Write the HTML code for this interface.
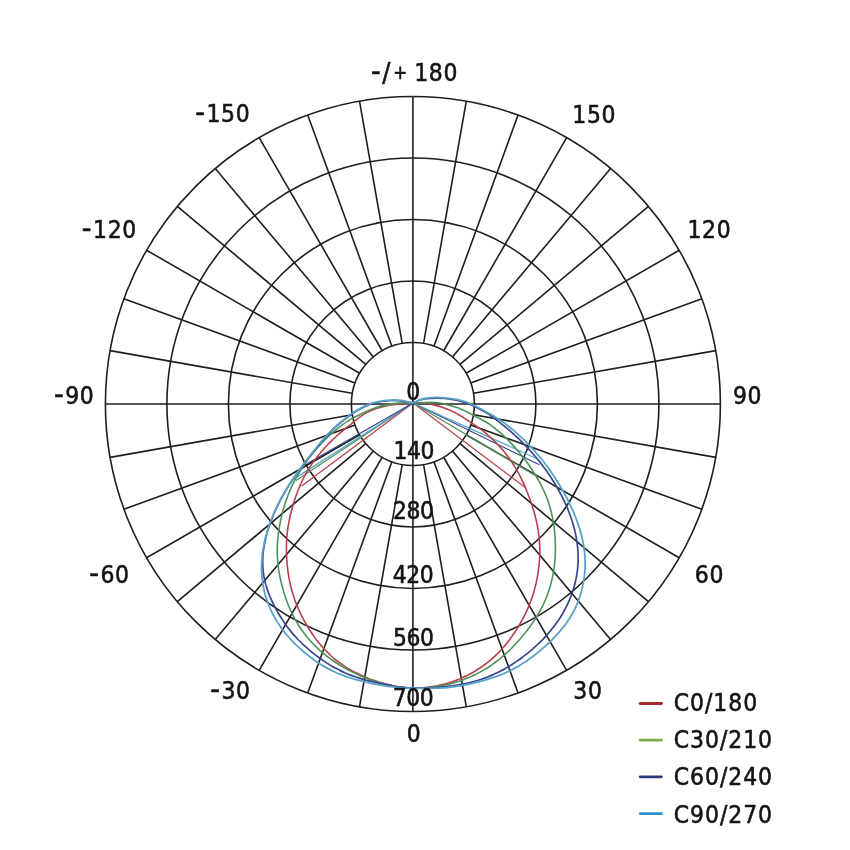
<!DOCTYPE html><html><head><meta charset="utf-8"><style>html,body{margin:0;padding:0;background:#fff;width:850px;height:850px;overflow:hidden}svg{display:block}</style></head><body><svg width="850" height="850" viewBox="0 0 850 850">
<rect width="850" height="850" fill="#fff"/>
<g fill="none" stroke="#1e1e1e" stroke-width="1.6"><circle cx="412.9" cy="404.0" r="61.50"/><circle cx="412.9" cy="404.0" r="123.00"/><circle cx="412.9" cy="404.0" r="184.50"/><circle cx="412.9" cy="404.0" r="246.00"/><circle cx="412.9" cy="404.0" r="307.50"/><line x1="412.90" y1="404.00" x2="412.90" y2="711.50"/><line x1="423.58" y1="464.57" x2="466.30" y2="706.83"/><line x1="433.93" y1="461.79" x2="518.07" y2="692.96"/><line x1="443.65" y1="457.26" x2="566.65" y2="670.30"/><line x1="452.43" y1="451.11" x2="610.56" y2="639.56"/><line x1="460.01" y1="443.53" x2="648.46" y2="601.66"/><line x1="466.16" y1="434.75" x2="679.20" y2="557.75"/><line x1="470.69" y1="425.03" x2="701.86" y2="509.17"/><line x1="473.47" y1="414.68" x2="715.73" y2="457.40"/><line x1="412.90" y1="404.00" x2="720.40" y2="404.00"/><line x1="473.47" y1="393.32" x2="715.73" y2="350.60"/><line x1="470.69" y1="382.97" x2="701.86" y2="298.83"/><line x1="466.16" y1="373.25" x2="679.20" y2="250.25"/><line x1="460.01" y1="364.47" x2="648.46" y2="206.34"/><line x1="452.43" y1="356.89" x2="610.56" y2="168.44"/><line x1="443.65" y1="350.74" x2="566.65" y2="137.70"/><line x1="433.93" y1="346.21" x2="518.07" y2="115.04"/><line x1="423.58" y1="343.43" x2="466.30" y2="101.17"/><line x1="412.90" y1="404.00" x2="412.90" y2="96.50"/><line x1="402.22" y1="343.43" x2="359.50" y2="101.17"/><line x1="391.87" y1="346.21" x2="307.73" y2="115.04"/><line x1="382.15" y1="350.74" x2="259.15" y2="137.70"/><line x1="373.37" y1="356.89" x2="215.24" y2="168.44"/><line x1="365.79" y1="364.47" x2="177.34" y2="206.34"/><line x1="359.64" y1="373.25" x2="146.60" y2="250.25"/><line x1="355.11" y1="382.97" x2="123.94" y2="298.83"/><line x1="352.33" y1="393.32" x2="110.07" y2="350.60"/><line x1="412.90" y1="404.00" x2="105.40" y2="404.00"/><line x1="352.33" y1="414.68" x2="110.07" y2="457.40"/><line x1="355.11" y1="425.03" x2="123.94" y2="509.17"/><line x1="359.64" y1="434.75" x2="146.60" y2="557.75"/><line x1="365.79" y1="443.53" x2="177.34" y2="601.66"/><line x1="373.37" y1="451.11" x2="215.24" y2="639.56"/><line x1="382.15" y1="457.26" x2="259.15" y2="670.30"/><line x1="391.87" y1="461.79" x2="307.73" y2="692.96"/><line x1="402.22" y1="464.57" x2="359.50" y2="706.83"/></g>
<g stroke-width="1.25" fill="none"><line x1="413.1" y1="403.0" x2="301.6" y2="486.1" stroke="#b9404b"/><line x1="413.1" y1="403.0" x2="296" y2="480.5" stroke="#4c9259"/><line x1="413.1" y1="403.0" x2="296" y2="477.6" stroke="#5aa3c8"/><line x1="413.1" y1="403.0" x2="307.3" y2="463.5" stroke="#37478e"/><line x1="413.1" y1="403.0" x2="525.3" y2="487.6" stroke="#b9404b"/><line x1="413.1" y1="403.0" x2="535.9" y2="475.9" stroke="#4c9259"/><line x1="413.1" y1="403.0" x2="539.4" y2="464.7" stroke="#37478e"/><line x1="413.1" y1="403.0" x2="535.9" y2="458.2" stroke="#5aa3c8"/></g>
<path d="M413.10,403.00 C408.88,403.42 395.55,403.90 387.80,405.50 C380.05,407.10 372.97,409.30 366.60,412.60 C360.23,415.90 352.94,422.80 349.61,425.30 C346.28,427.80 347.64,426.81 346.63,427.60 C345.63,428.40 344.61,429.22 343.58,430.07 C342.55,430.92 341.51,431.80 340.46,432.70 C339.40,433.61 338.34,434.55 337.26,435.52 C336.19,436.48 335.10,437.48 334.01,438.51 C332.92,439.54 331.82,440.60 330.72,441.68 C329.62,442.77 328.51,443.88 327.42,445.02 C326.32,446.17 325.22,447.34 324.14,448.53 C323.06,449.72 321.99,450.94 320.93,452.18 C319.87,453.42 318.83,454.68 317.81,455.96 C316.79,457.24 315.79,458.54 314.81,459.86 C313.83,461.17 312.88,462.51 311.96,463.85 C311.04,465.20 310.14,466.56 309.28,467.93 C308.42,469.30 307.58,470.68 306.79,472.06 C305.99,473.45 305.23,474.85 304.49,476.25 C303.75,477.66 303.05,479.07 302.37,480.50 C301.69,481.93 301.04,483.36 300.40,484.82 C299.77,486.27 299.15,487.74 298.56,489.23 C297.96,490.71 297.38,492.22 296.82,493.73 C296.26,495.25 295.72,496.79 295.19,498.34 C294.67,499.89 294.16,501.46 293.67,503.04 C293.19,504.63 292.72,506.23 292.27,507.84 C291.82,509.46 291.38,511.09 290.97,512.74 C290.56,514.39 290.17,516.05 289.80,517.73 C289.43,519.40 289.09,521.09 288.77,522.78 C288.46,524.47 288.17,526.17 287.92,527.87 C287.67,529.57 287.45,531.27 287.26,532.97 C287.08,534.67 286.92,536.38 286.80,538.08 C286.68,539.78 286.58,541.49 286.52,543.19 C286.46,544.90 286.42,546.60 286.42,548.31 C286.41,550.02 286.44,551.74 286.49,553.45 C286.54,555.16 286.62,556.88 286.72,558.60 C286.82,560.31 286.96,562.03 287.11,563.76 C287.27,565.48 287.45,567.21 287.66,568.94 C287.87,570.66 288.11,572.39 288.37,574.12 C288.64,575.85 288.93,577.57 289.25,579.29 C289.58,581.01 289.93,582.72 290.32,584.42 C290.70,586.13 291.12,587.82 291.57,589.50 C292.03,591.18 292.51,592.84 293.02,594.50 C293.54,596.15 294.08,597.80 294.66,599.42 C295.24,601.05 295.84,602.67 296.48,604.27 C297.11,605.88 297.78,607.47 298.47,609.05 C299.16,610.63 299.88,612.19 300.63,613.74 C301.38,615.30 302.15,616.84 302.95,618.37 C303.75,619.90 304.58,621.41 305.43,622.92 C306.28,624.42 307.15,625.92 308.05,627.40 C308.95,628.88 309.88,630.35 310.83,631.80 C311.78,633.25 312.75,634.69 313.75,636.11 C314.75,637.52 315.78,638.92 316.83,640.29 C317.89,641.66 318.97,643.02 320.07,644.34 C321.17,645.66 322.31,646.96 323.46,648.23 C324.62,649.49 325.80,650.73 327.01,651.94 C328.21,653.15 329.44,654.33 330.70,655.47 C331.95,656.62 333.23,657.74 334.53,658.82 C335.82,659.90 337.15,660.95 338.49,661.97 C339.83,662.98 341.19,663.97 342.57,664.92 C343.95,665.86 345.36,666.78 346.77,667.66 C348.19,668.55 349.63,669.40 351.08,670.22 C352.53,671.04 354.00,671.82 355.48,672.58 C356.96,673.34 358.45,674.07 359.96,674.78 C361.47,675.48 362.99,676.16 364.52,676.81 C366.05,677.46 367.59,678.08 369.15,678.67 C370.70,679.27 372.26,679.84 373.83,680.38 C375.41,680.93 376.99,681.44 378.58,681.94 C380.17,682.43 381.77,682.91 383.37,683.36 C384.98,683.81 386.59,684.25 388.21,684.65 C389.82,685.06 391.45,685.45 393.08,685.80 C394.71,686.14 396.35,686.47 398.00,686.74 C399.64,687.01 401.29,687.24 402.95,687.42 C404.60,687.60 406.26,687.74 407.92,687.83 C409.58,687.92 411.24,687.92 412.90,687.97 C414.56,688.02 416.22,688.14 417.88,688.12 C419.54,688.10 421.20,687.95 422.86,687.82 C424.51,687.69 426.17,687.52 427.82,687.32 C429.47,687.12 431.12,686.89 432.76,686.62 C434.40,686.36 436.03,686.06 437.66,685.72 C439.29,685.38 440.92,685.01 442.53,684.61 C444.15,684.20 445.76,683.76 447.36,683.29 C448.95,682.82 450.55,682.31 452.12,681.77 C453.70,681.23 455.27,680.65 456.83,680.04 C458.39,679.44 459.93,678.79 461.47,678.12 C463.00,677.45 464.52,676.74 466.03,676.01 C467.53,675.27 469.03,674.50 470.51,673.70 C471.98,672.90 473.45,672.07 474.89,671.21 C476.34,670.35 477.77,669.46 479.18,668.54 C480.59,667.61 481.99,666.66 483.36,665.67 C484.74,664.69 486.09,663.67 487.43,662.62 C488.76,661.57 490.08,660.49 491.37,659.38 C492.66,658.27 493.93,657.12 495.18,655.95 C496.42,654.77 497.64,653.56 498.84,652.33 C500.04,651.09 501.21,649.83 502.36,648.53 C503.51,647.24 504.63,645.92 505.73,644.58 C506.82,643.23 507.89,641.86 508.94,640.47 C509.99,639.09 511.01,637.67 512.00,636.25 C513.00,634.83 513.98,633.39 514.93,631.94 C515.88,630.49 516.80,629.03 517.71,627.56 C518.61,626.09 519.50,624.61 520.36,623.12 C521.21,621.64 522.05,620.14 522.86,618.63 C523.67,617.11 524.45,615.59 525.21,614.06 C525.97,612.52 526.70,610.97 527.40,609.40 C528.10,607.84 528.78,606.26 529.42,604.67 C530.06,603.08 530.68,601.47 531.26,599.85 C531.85,598.23 532.40,596.60 532.92,594.95 C533.44,593.31 533.94,591.65 534.40,589.98 C534.86,588.31 535.29,586.63 535.69,584.94 C536.09,583.26 536.46,581.56 536.80,579.86 C537.14,578.17 537.45,576.46 537.74,574.76 C538.03,573.06 538.28,571.35 538.51,569.64 C538.74,567.93 538.95,566.22 539.12,564.51 C539.29,562.80 539.43,561.08 539.54,559.37 C539.65,557.65 539.73,555.93 539.78,554.20 C539.82,552.47 539.84,550.75 539.82,549.01 C539.80,547.28 539.74,545.54 539.65,543.79 C539.55,542.04 539.42,540.29 539.25,538.54 C539.08,536.78 538.87,535.02 538.63,533.26 C538.39,531.50 538.10,529.73 537.79,527.97 C537.48,526.21 537.13,524.45 536.75,522.70 C536.37,520.94 535.96,519.20 535.52,517.47 C535.09,515.73 534.63,514.01 534.14,512.30 C533.66,510.60 533.15,508.90 532.62,507.23 C532.10,505.56 531.55,503.90 530.99,502.26 C530.42,500.62 529.84,499.01 529.25,497.41 C528.66,495.82 528.05,494.25 527.44,492.70 C526.82,491.15 526.20,489.63 525.56,488.13 C524.93,486.63 524.28,485.15 523.63,483.70 C522.97,482.24 522.31,480.81 521.63,479.40 C520.95,477.99 520.26,476.60 519.55,475.22 C518.84,473.85 518.12,472.49 517.37,471.15 C516.62,469.80 515.85,468.48 515.06,467.16 C514.27,465.85 513.46,464.55 512.62,463.26 C511.78,461.97 510.92,460.70 510.03,459.44 C509.14,458.18 508.23,456.94 507.30,455.71 C506.36,454.48 505.41,453.26 504.43,452.07 C503.45,450.87 502.44,449.69 501.42,448.53 C500.40,447.37 499.36,446.22 498.30,445.10 C497.25,443.97 496.17,442.87 495.08,441.79 C494.00,440.71 492.89,439.65 491.79,438.61 C490.68,437.57 489.55,436.56 488.43,435.57 C487.31,434.58 486.18,433.62 485.05,432.68 C483.92,431.75 484.18,431.76 481.67,429.95 C479.16,428.14 474.88,424.93 470.00,421.80 C465.12,418.67 458.87,414.15 452.40,411.20 C445.93,408.25 437.75,405.47 431.20,404.10 C424.65,402.73 416.12,403.18 413.10,403.00" fill="none" stroke="#b9404b" stroke-width="1.6" stroke-linejoin="round"/>
<path d="M413.10,403.00 C410.05,403.07 401.38,402.50 394.80,403.40 C388.22,404.30 380.65,405.93 373.60,408.40 C366.55,410.87 356.54,416.25 352.50,418.20 C348.46,420.15 350.40,419.46 349.36,420.13 C348.31,420.79 347.26,421.47 346.22,422.18 C345.17,422.89 344.13,423.61 343.09,424.36 C342.05,425.11 341.01,425.88 339.97,426.67 C338.93,427.47 337.89,428.28 336.86,429.12 C335.82,429.96 334.79,430.82 333.76,431.70 C332.73,432.58 331.70,433.49 330.67,434.42 C329.64,435.35 328.62,436.30 327.59,437.28 C326.56,438.26 325.54,439.26 324.51,440.29 C323.48,441.32 322.46,442.37 321.43,443.45 C320.41,444.53 319.38,445.64 318.36,446.77 C317.34,447.90 316.32,449.06 315.31,450.24 C314.30,451.42 313.29,452.63 312.30,453.86 C311.30,455.09 310.31,456.34 309.34,457.62 C308.36,458.90 307.39,460.20 306.44,461.52 C305.48,462.84 304.54,464.19 303.62,465.56 C302.69,466.93 301.78,468.32 300.88,469.72 C299.99,471.13 299.12,472.56 298.27,474.01 C297.42,475.45 296.59,476.91 295.79,478.39 C294.99,479.86 294.21,481.35 293.47,482.85 C292.72,484.35 292.01,485.86 291.32,487.38 C290.62,488.91 289.96,490.44 289.33,491.99 C288.69,493.54 288.08,495.10 287.49,496.67 C286.90,498.25 286.34,499.83 285.80,501.43 C285.27,503.03 284.75,504.64 284.26,506.26 C283.78,507.88 283.31,509.52 282.87,511.16 C282.43,512.81 282.01,514.47 281.62,516.14 C281.23,517.81 280.86,519.49 280.51,521.19 C280.16,522.88 279.84,524.59 279.54,526.31 C279.24,528.02 278.96,529.76 278.71,531.49 C278.46,533.23 278.24,534.97 278.05,536.72 C277.87,538.46 277.71,540.21 277.59,541.95 C277.47,543.70 277.38,545.44 277.33,547.18 C277.28,548.92 277.26,550.66 277.28,552.39 C277.30,554.11 277.36,555.84 277.45,557.56 C277.54,559.27 277.66,560.98 277.82,562.69 C277.98,564.39 278.18,566.08 278.40,567.77 C278.63,569.46 278.89,571.14 279.18,572.81 C279.47,574.48 279.79,576.14 280.14,577.80 C280.49,579.46 280.87,581.12 281.27,582.77 C281.67,584.43 282.10,586.08 282.55,587.73 C283.00,589.38 283.48,591.03 283.98,592.67 C284.48,594.32 285.01,595.96 285.56,597.60 C286.12,599.23 286.70,600.86 287.31,602.48 C287.92,604.10 288.56,605.70 289.23,607.30 C289.89,608.89 290.59,610.47 291.32,612.03 C292.05,613.58 292.81,615.13 293.60,616.65 C294.39,618.16 295.21,619.67 296.06,621.14 C296.91,622.62 297.80,624.07 298.71,625.50 C299.62,626.92 300.56,628.33 301.53,629.71 C302.50,631.09 303.49,632.44 304.52,633.77 C305.54,635.10 306.59,636.41 307.66,637.69 C308.74,638.98 309.84,640.23 310.96,641.47 C312.08,642.70 313.23,643.91 314.40,645.10 C315.57,646.28 316.76,647.44 317.97,648.58 C319.19,649.71 320.42,650.82 321.68,651.90 C322.93,652.99 324.21,654.05 325.50,655.08 C326.79,656.12 328.11,657.13 329.44,658.11 C330.77,659.10 332.12,660.05 333.48,660.99 C334.85,661.93 336.23,662.84 337.63,663.73 C339.02,664.62 340.44,665.49 341.86,666.33 C343.29,667.18 344.73,668.00 346.18,668.80 C347.63,669.60 349.10,670.38 350.58,671.14 C352.06,671.89 353.55,672.63 355.05,673.34 C356.56,674.05 358.07,674.73 359.60,675.40 C361.12,676.06 362.66,676.70 364.21,677.31 C365.76,677.93 367.32,678.52 368.88,679.08 C370.45,679.65 372.03,680.19 373.61,680.71 C375.20,681.23 376.79,681.73 378.39,682.20 C379.99,682.68 381.60,683.14 383.22,683.58 C384.83,684.01 386.45,684.43 388.08,684.83 C389.71,685.22 391.34,685.60 392.99,685.93 C394.63,686.26 396.27,686.57 397.93,686.83 C399.58,687.09 401.24,687.31 402.90,687.48 C404.56,687.66 406.23,687.79 407.89,687.87 C409.56,687.96 411.23,687.95 412.90,688.00 C414.57,688.06 416.24,688.19 417.91,688.19 C419.58,688.18 421.25,688.07 422.91,687.97 C424.58,687.88 426.25,687.76 427.91,687.61 C429.57,687.46 431.23,687.29 432.89,687.09 C434.55,686.89 436.20,686.66 437.85,686.39 C439.50,686.13 441.14,685.84 442.78,685.51 C444.42,685.19 446.05,684.83 447.67,684.45 C449.30,684.06 450.92,683.64 452.52,683.19 C454.13,682.75 455.74,682.27 457.33,681.76 C458.92,681.25 460.50,680.71 462.07,680.14 C463.65,679.57 465.21,678.97 466.76,678.34 C468.31,677.71 469.85,677.05 471.37,676.36 C472.90,675.68 474.41,674.96 475.91,674.21 C477.41,673.47 478.90,672.69 480.37,671.89 C481.84,671.08 483.30,670.25 484.74,669.39 C486.18,668.53 487.60,667.64 489.01,666.73 C490.42,665.81 491.81,664.87 493.18,663.90 C494.55,662.92 495.91,661.93 497.24,660.90 C498.58,659.88 499.89,658.83 501.19,657.75 C502.49,656.67 503.76,655.57 505.02,654.45 C506.28,653.33 507.51,652.18 508.73,651.01 C509.95,649.85 511.14,648.66 512.32,647.46 C513.50,646.25 514.66,645.03 515.79,643.80 C516.93,642.56 518.05,641.31 519.15,640.05 C520.25,638.79 521.33,637.52 522.40,636.24 C523.46,634.96 524.51,633.67 525.53,632.37 C526.56,631.07 527.57,629.76 528.56,628.44 C529.55,627.12 530.52,625.79 531.46,624.45 C532.41,623.11 533.34,621.76 534.25,620.40 C535.15,619.03 536.04,617.66 536.89,616.26 C537.75,614.87 538.59,613.46 539.39,612.03 C540.20,610.60 540.98,609.16 541.73,607.70 C542.48,606.24 543.21,604.76 543.90,603.27 C544.59,601.77 545.25,600.26 545.88,598.72 C546.52,597.19 547.12,595.64 547.68,594.08 C548.25,592.51 548.79,590.93 549.29,589.33 C549.79,587.73 550.26,586.12 550.70,584.50 C551.14,582.87 551.55,581.24 551.92,579.59 C552.30,577.95 552.64,576.29 552.96,574.63 C553.27,572.97 553.55,571.30 553.81,569.63 C554.06,567.96 554.28,566.28 554.48,564.59 C554.67,562.91 554.83,561.22 554.97,559.54 C555.10,557.85 555.20,556.15 555.28,554.46 C555.35,552.77 555.40,551.08 555.41,549.39 C555.43,547.70 555.42,546.01 555.38,544.32 C555.34,542.64 555.28,540.95 555.19,539.27 C555.10,537.60 554.98,535.92 554.83,534.25 C554.69,532.59 554.52,530.92 554.32,529.27 C554.13,527.61 553.91,525.96 553.66,524.32 C553.41,522.67 553.13,521.04 552.83,519.40 C552.52,517.77 552.19,516.14 551.82,514.52 C551.46,512.90 551.06,511.28 550.63,509.66 C550.20,508.05 549.74,506.44 549.24,504.83 C548.74,503.22 548.20,501.61 547.63,500.01 C547.05,498.41 546.44,496.81 545.80,495.22 C545.15,493.63 544.46,492.04 543.74,490.46 C543.02,488.88 542.27,487.30 541.48,485.74 C540.69,484.18 539.86,482.62 539.01,481.09 C538.16,479.55 537.28,478.02 536.37,476.52 C535.47,475.01 534.54,473.52 533.60,472.06 C532.66,470.59 531.69,469.14 530.72,467.72 C529.75,466.31 528.77,464.91 527.78,463.54 C526.80,462.18 525.80,460.83 524.81,459.52 C523.82,458.21 522.82,456.92 521.82,455.67 C520.83,454.41 519.83,453.18 518.83,451.98 C517.83,450.78 516.84,449.61 515.84,448.46 C514.85,447.31 513.85,446.19 512.85,445.09 C511.86,444.00 510.86,442.93 509.86,441.88 C508.86,440.83 507.85,439.81 506.84,438.80 C505.83,437.80 504.82,436.82 503.79,435.86 C502.77,434.91 501.74,433.97 500.70,433.05 C499.66,432.14 498.61,431.24 497.54,430.36 C496.48,429.49 495.41,428.63 494.32,427.79 C493.23,426.96 492.13,426.14 491.02,425.34 C489.90,424.54 491.13,424.98 487.63,423.01 C484.13,421.03 474.70,415.93 470.00,413.50 C465.30,411.07 464.70,410.20 459.40,408.40 C454.10,406.60 445.92,403.60 438.20,402.70 C430.48,401.80 417.28,402.95 413.10,403.00" fill="none" stroke="#4c9259" stroke-width="1.6" stroke-linejoin="round"/>
<path d="M413.10,403.00 C410.05,402.58 401.38,400.47 394.80,400.50 C388.22,400.53 380.18,401.32 373.60,403.20 C367.02,405.08 361.17,408.25 355.30,411.80 C349.43,415.35 341.60,422.03 338.39,424.50 C335.18,426.97 336.82,425.89 336.04,426.61 C335.25,427.33 334.47,428.07 333.68,428.83 C332.90,429.58 332.11,430.36 331.33,431.15 C330.54,431.95 329.75,432.76 328.97,433.59 C328.18,434.42 327.39,435.27 326.60,436.14 C325.81,437.01 325.01,437.90 324.21,438.82 C323.41,439.73 322.61,440.67 321.80,441.63 C320.99,442.59 320.18,443.57 319.35,444.58 C318.52,445.60 317.68,446.63 316.82,447.71 C315.96,448.78 315.09,449.88 314.18,451.02 C313.28,452.16 312.36,453.33 311.40,454.55 C310.44,455.77 309.46,457.03 308.44,458.34 C307.42,459.65 306.37,461.00 305.30,462.41 C304.23,463.81 303.12,465.25 302.00,466.75 C300.88,468.24 299.73,469.78 298.58,471.36 C297.43,472.95 296.26,474.57 295.10,476.24 C293.94,477.90 292.77,479.61 291.62,481.35 C290.46,483.08 289.31,484.86 288.18,486.66 C287.06,488.46 285.94,490.29 284.86,492.14 C283.77,494.00 282.70,495.88 281.67,497.78 C280.64,499.68 279.63,501.61 278.66,503.55 C277.69,505.49 276.75,507.45 275.85,509.42 C274.95,511.39 274.08,513.39 273.25,515.39 C272.42,517.39 271.62,519.41 270.87,521.43 C270.12,523.46 269.40,525.49 268.74,527.53 C268.08,529.56 267.45,531.61 266.89,533.64 C266.32,535.67 265.80,537.71 265.35,539.73 C264.89,541.74 264.49,543.76 264.15,545.74 C263.81,547.73 263.53,549.70 263.31,551.65 C263.09,553.60 262.94,555.52 262.84,557.42 C262.74,559.32 262.71,561.20 262.73,563.04 C262.75,564.89 262.83,566.71 262.96,568.50 C263.09,570.29 263.28,572.06 263.52,573.79 C263.76,575.52 264.06,577.23 264.40,578.91 C264.74,580.58 265.13,582.23 265.57,583.85 C266.00,585.48 266.48,587.07 267.00,588.64 C267.51,590.21 268.07,591.76 268.66,593.29 C269.25,594.82 269.88,596.32 270.53,597.82 C271.18,599.32 271.86,600.79 272.57,602.26 C273.27,603.73 274.01,605.19 274.76,606.64 C275.51,608.09 276.29,609.53 277.09,610.96 C277.88,612.39 278.70,613.81 279.55,615.22 C280.39,616.63 281.26,618.03 282.15,619.41 C283.04,620.79 283.95,622.16 284.89,623.51 C285.83,624.86 286.79,626.20 287.77,627.51 C288.76,628.82 289.77,630.12 290.81,631.39 C291.84,632.66 292.91,633.91 293.99,635.14 C295.07,636.36 296.18,637.57 297.30,638.76 C298.43,639.94 299.58,641.10 300.75,642.25 C301.92,643.39 303.11,644.51 304.32,645.62 C305.52,646.72 306.75,647.81 307.99,648.88 C309.23,649.95 310.49,651.00 311.77,652.04 C313.04,653.07 314.33,654.09 315.64,655.09 C316.94,656.09 318.26,657.08 319.60,658.04 C320.94,659.01 322.29,659.96 323.66,660.88 C325.02,661.81 326.40,662.72 327.80,663.60 C329.20,664.48 330.61,665.35 332.04,666.18 C333.46,667.02 334.90,667.83 336.36,668.61 C337.81,669.40 339.28,670.15 340.77,670.88 C342.25,671.60 343.75,672.29 345.26,672.96 C346.77,673.62 348.30,674.24 349.83,674.84 C351.37,675.44 352.92,676.01 354.47,676.56 C356.03,677.10 357.59,677.61 359.17,678.11 C360.74,678.60 362.32,679.07 363.91,679.52 C365.49,679.97 367.09,680.40 368.69,680.81 C370.29,681.23 371.89,681.62 373.50,682.00 C375.11,682.38 376.73,682.74 378.34,683.10 C379.96,683.45 381.58,683.80 383.21,684.13 C384.84,684.47 386.47,684.81 388.10,685.13 C389.73,685.45 391.37,685.77 393.01,686.05 C394.66,686.34 396.30,686.61 397.95,686.84 C399.60,687.07 401.26,687.27 402.92,687.42 C404.58,687.58 406.24,687.70 407.91,687.77 C409.57,687.85 411.23,687.81 412.90,687.89 C414.57,687.97 416.24,688.19 417.91,688.22 C419.58,688.26 421.24,688.16 422.91,688.12 C424.58,688.07 426.25,688.01 427.92,687.94 C429.59,687.87 431.25,687.79 432.92,687.69 C434.59,687.60 436.25,687.49 437.92,687.36 C439.59,687.24 441.25,687.10 442.91,686.94 C444.58,686.78 446.24,686.61 447.90,686.41 C449.56,686.21 451.21,686.00 452.87,685.76 C454.52,685.52 456.17,685.27 457.82,684.99 C459.47,684.71 461.11,684.41 462.75,684.08 C464.39,683.75 466.02,683.41 467.65,683.03 C469.28,682.66 470.90,682.26 472.51,681.84 C474.13,681.41 475.74,680.96 477.34,680.48 C478.94,680.00 480.53,679.50 482.11,678.96 C483.69,678.42 485.26,677.85 486.82,677.25 C488.38,676.65 489.93,676.02 491.47,675.37 C493.00,674.71 494.53,674.02 496.04,673.30 C497.55,672.58 499.04,671.84 500.53,671.07 C502.01,670.29 503.48,669.50 504.94,668.67 C506.39,667.85 507.83,667.00 509.26,666.14 C510.69,665.27 512.10,664.37 513.50,663.46 C514.90,662.55 516.28,661.61 517.65,660.66 C519.02,659.70 520.37,658.73 521.71,657.74 C523.05,656.74 524.37,655.73 525.68,654.70 C526.98,653.67 528.27,652.62 529.55,651.56 C530.82,650.50 532.08,649.42 533.33,648.33 C534.57,647.23 535.80,646.12 537.01,645.00 C538.22,643.87 539.41,642.73 540.59,641.57 C541.76,640.41 542.92,639.24 544.06,638.05 C545.20,636.85 546.31,635.64 547.41,634.41 C548.50,633.18 549.58,631.93 550.63,630.66 C551.68,629.39 552.71,628.11 553.71,626.80 C554.71,625.49 555.69,624.16 556.65,622.81 C557.60,621.46 558.53,620.10 559.43,618.71 C560.33,617.33 561.21,615.92 562.06,614.50 C562.90,613.07 563.72,611.63 564.52,610.17 C565.31,608.71 566.07,607.23 566.80,605.74 C567.53,604.24 568.24,602.73 568.91,601.19 C569.58,599.66 570.22,598.11 570.82,596.55 C571.43,594.98 572.00,593.39 572.54,591.79 C573.07,590.19 573.58,588.57 574.04,586.94 C574.51,585.30 574.94,583.65 575.33,581.98 C575.73,580.31 576.08,578.63 576.39,576.92 C576.71,575.22 576.98,573.50 577.21,571.77 C577.45,570.04 577.64,568.29 577.78,566.52 C577.93,564.76 578.03,562.98 578.09,561.18 C578.14,559.39 578.15,557.58 578.11,555.75 C578.07,553.93 577.99,552.09 577.86,550.25 C577.73,548.40 577.55,546.54 577.32,544.68 C577.10,542.82 576.82,540.94 576.51,539.06 C576.19,537.19 575.82,535.30 575.42,533.42 C575.01,531.54 574.56,529.65 574.07,527.77 C573.57,525.89 573.04,524.00 572.46,522.13 C571.88,520.25 571.26,518.38 570.61,516.51 C569.95,514.65 569.26,512.79 568.53,510.94 C567.80,509.09 567.03,507.26 566.23,505.43 C565.43,503.61 564.60,501.80 563.74,500.01 C562.88,498.22 561.99,496.44 561.08,494.69 C560.17,492.94 559.23,491.20 558.27,489.49 C557.31,487.77 556.32,486.08 555.32,484.41 C554.33,482.75 553.31,481.10 552.28,479.49 C551.24,477.87 550.20,476.28 549.14,474.71 C548.08,473.15 547.01,471.61 545.92,470.10 C544.84,468.59 543.75,467.10 542.65,465.65 C541.55,464.19 540.44,462.76 539.33,461.36 C538.21,459.96 537.09,458.59 535.97,457.24 C534.84,455.90 533.71,454.58 532.58,453.29 C531.45,452.01 530.32,450.75 529.19,449.52 C528.06,448.29 526.93,447.09 525.81,445.92 C524.69,444.74 523.56,443.60 522.45,442.49 C521.33,441.37 520.22,440.29 519.12,439.23 C518.02,438.17 516.93,437.14 515.85,436.14 C514.76,435.14 513.69,434.17 512.63,433.22 C511.56,432.27 510.51,431.35 509.47,430.46 C508.43,429.56 507.41,428.70 506.39,427.85 C505.38,427.01 504.38,426.19 503.40,425.40 C502.42,424.60 501.45,423.83 500.49,423.09 C499.54,422.34 498.60,421.62 497.69,420.92 C496.77,420.22 495.87,419.54 494.99,418.88 C494.11,418.22 493.24,417.59 492.40,416.97 C491.56,416.35 490.74,415.76 489.94,415.18 C489.14,414.60 491.50,415.53 487.60,413.50 C483.69,411.47 473.55,405.50 466.50,403.00 C459.45,400.50 452.37,399.17 445.30,398.50 C438.23,397.83 429.47,398.25 424.10,399.00 C418.73,399.75 414.93,402.33 413.10,403.00" fill="none" stroke="#37478e" stroke-width="1.7" stroke-linejoin="round"/>
<path d="M413.10,403.00 C410.05,402.48 401.38,399.95 394.80,399.90 C388.22,399.85 380.18,400.82 373.60,402.70 C367.02,404.58 361.17,407.67 355.30,411.20 C349.43,414.73 341.60,421.44 338.39,423.90 C335.18,426.36 336.83,425.26 336.06,425.97 C335.28,426.68 334.51,427.40 333.73,428.14 C332.95,428.88 332.18,429.64 331.40,430.41 C330.63,431.19 329.85,431.98 329.08,432.79 C328.30,433.61 327.52,434.44 326.74,435.29 C325.96,436.14 325.19,437.01 324.40,437.90 C323.62,438.79 322.83,439.70 322.04,440.63 C321.25,441.57 320.46,442.52 319.65,443.51 C318.84,444.49 318.03,445.49 317.20,446.53 C316.36,447.57 315.52,448.63 314.65,449.73 C313.78,450.84 312.89,451.97 311.97,453.14 C311.05,454.32 310.11,455.53 309.14,456.79 C308.16,458.04 307.15,459.34 306.12,460.69 C305.09,462.03 304.03,463.42 302.95,464.85 C301.88,466.29 300.77,467.77 299.66,469.29 C298.55,470.81 297.41,472.37 296.28,473.97 C295.15,475.58 294.01,477.22 292.87,478.90 C291.74,480.58 290.61,482.29 289.49,484.04 C288.38,485.78 287.27,487.56 286.19,489.36 C285.11,491.16 284.04,492.99 283.00,494.85 C281.96,496.70 280.95,498.57 279.97,500.47 C278.98,502.36 278.02,504.28 277.10,506.22 C276.17,508.15 275.28,510.10 274.42,512.07 C273.56,514.04 272.72,516.03 271.93,518.03 C271.14,520.03 270.37,522.05 269.65,524.07 C268.93,526.09 268.25,528.13 267.61,530.17 C266.97,532.20 266.38,534.25 265.83,536.29 C265.29,538.32 264.79,540.36 264.35,542.39 C263.91,544.42 263.52,546.44 263.18,548.44 C262.84,550.45 262.56,552.45 262.33,554.43 C262.10,556.41 261.93,558.37 261.80,560.32 C261.68,562.27 261.60,564.21 261.58,566.13 C261.55,568.04 261.58,569.95 261.66,571.83 C261.73,573.71 261.86,575.57 262.03,577.41 C262.20,579.25 262.42,581.07 262.69,582.87 C262.95,584.66 263.27,586.44 263.63,588.18 C263.99,589.93 264.39,591.66 264.84,593.36 C265.29,595.06 265.78,596.73 266.31,598.38 C266.84,600.03 267.41,601.66 268.02,603.26 C268.62,604.86 269.27,606.44 269.95,608.00 C270.63,609.55 271.34,611.09 272.09,612.60 C272.84,614.11 273.62,615.60 274.43,617.07 C275.24,618.53 276.08,619.98 276.96,621.40 C277.83,622.81 278.73,624.21 279.66,625.58 C280.59,626.95 281.55,628.30 282.54,629.62 C283.53,630.95 284.55,632.24 285.59,633.51 C286.63,634.79 287.70,636.03 288.79,637.26 C289.88,638.48 290.99,639.68 292.13,640.86 C293.26,642.04 294.42,643.20 295.60,644.34 C296.77,645.48 297.97,646.60 299.18,647.71 C300.39,648.81 301.62,649.90 302.87,650.97 C304.11,652.05 305.37,653.10 306.65,654.14 C307.93,655.18 309.22,656.21 310.53,657.21 C311.84,658.21 313.16,659.20 314.51,660.16 C315.85,661.12 317.21,662.06 318.58,662.97 C319.96,663.88 321.35,664.77 322.76,665.62 C324.17,666.48 325.59,667.31 327.03,668.11 C328.47,668.91 329.93,669.67 331.40,670.41 C332.87,671.14 334.36,671.84 335.86,672.51 C337.36,673.18 338.87,673.81 340.40,674.42 C341.92,675.02 343.46,675.59 345.01,676.14 C346.55,676.69 348.11,677.20 349.67,677.70 C351.23,678.20 352.81,678.68 354.38,679.14 C355.96,679.60 357.54,680.04 359.13,680.47 C360.72,680.89 362.31,681.30 363.91,681.69 C365.50,682.08 367.11,682.45 368.72,682.80 C370.32,683.16 371.94,683.49 373.55,683.81 C375.17,684.13 376.79,684.44 378.41,684.72 C380.03,685.01 381.66,685.28 383.29,685.54 C384.92,685.80 386.55,686.05 388.19,686.27 C389.83,686.50 391.46,686.72 393.11,686.91 C394.75,687.10 396.39,687.28 398.04,687.43 C399.68,687.57 401.33,687.70 402.98,687.80 C404.63,687.90 406.29,687.98 407.94,688.03 C409.59,688.08 411.24,688.03 412.90,688.10 C414.56,688.17 416.23,688.38 417.89,688.43 C419.55,688.48 421.22,688.42 422.88,688.41 C424.55,688.41 426.21,688.40 427.88,688.38 C429.55,688.37 431.22,688.35 432.89,688.32 C434.55,688.28 436.22,688.24 437.89,688.17 C439.56,688.10 441.23,688.02 442.90,687.91 C444.56,687.79 446.23,687.65 447.89,687.49 C449.55,687.33 451.21,687.14 452.87,686.92 C454.53,686.71 456.18,686.47 457.83,686.21 C459.49,685.95 461.13,685.67 462.78,685.37 C464.42,685.07 466.06,684.74 467.70,684.40 C469.33,684.06 470.96,683.70 472.59,683.32 C474.22,682.94 475.84,682.55 477.46,682.14 C479.08,681.72 480.69,681.30 482.30,680.85 C483.91,680.40 485.52,679.94 487.11,679.46 C488.71,678.98 490.31,678.49 491.89,677.96 C493.47,677.44 495.05,676.90 496.62,676.33 C498.19,675.76 499.75,675.17 501.30,674.55 C502.84,673.92 504.38,673.27 505.90,672.59 C507.42,671.90 508.93,671.19 510.43,670.45 C511.92,669.71 513.41,668.93 514.87,668.14 C516.34,667.34 517.79,666.51 519.23,665.66 C520.66,664.80 522.08,663.92 523.49,663.02 C524.89,662.11 526.28,661.18 527.65,660.23 C529.02,659.28 530.38,658.30 531.72,657.30 C533.06,656.31 534.38,655.29 535.69,654.26 C537.00,653.22 538.29,652.17 539.57,651.10 C540.85,650.03 542.11,648.95 543.35,647.85 C544.60,646.75 545.83,645.64 547.05,644.51 C548.26,643.38 549.46,642.24 550.64,641.08 C551.82,639.92 552.99,638.75 554.14,637.57 C555.29,636.38 556.42,635.18 557.53,633.96 C558.63,632.74 559.73,631.50 560.79,630.24 C561.85,628.98 562.90,627.70 563.91,626.40 C564.93,625.10 565.92,623.77 566.88,622.42 C567.83,621.06 568.76,619.68 569.66,618.28 C570.55,616.87 571.41,615.44 572.24,613.97 C573.06,612.51 573.85,611.02 574.60,609.50 C575.36,607.99 576.07,606.44 576.75,604.87 C577.42,603.30 578.06,601.71 578.66,600.09 C579.25,598.47 579.81,596.82 580.33,595.16 C580.85,593.50 581.32,591.81 581.76,590.10 C582.20,588.40 582.59,586.67 582.95,584.93 C583.30,583.19 583.62,581.43 583.89,579.65 C584.16,577.87 584.39,576.08 584.57,574.27 C584.76,572.46 584.90,570.64 584.99,568.80 C585.08,566.96 585.13,565.10 585.13,563.23 C585.12,561.36 585.07,559.48 584.97,557.57 C584.86,555.67 584.71,553.76 584.50,551.83 C584.28,549.90 584.02,547.95 583.70,546.00 C583.38,544.05 583.00,542.08 582.58,540.10 C582.15,538.13 581.67,536.15 581.15,534.17 C580.62,532.20 580.05,530.21 579.43,528.24 C578.82,526.26 578.16,524.29 577.47,522.33 C576.77,520.37 576.03,518.42 575.27,516.48 C574.50,514.55 573.70,512.62 572.87,510.72 C572.04,508.81 571.17,506.92 570.29,505.05 C569.40,503.18 568.48,501.33 567.55,499.51 C566.62,497.68 565.67,495.88 564.70,494.11 C563.74,492.33 562.76,490.59 561.77,488.87 C560.78,487.15 559.78,485.46 558.77,483.80 C557.76,482.14 556.74,480.51 555.72,478.91 C554.69,477.30 553.66,475.73 552.61,474.18 C551.57,472.63 550.51,471.11 549.45,469.62 C548.39,468.12 547.31,466.66 546.23,465.22 C545.15,463.78 544.06,462.36 542.96,460.97 C541.86,459.59 540.75,458.22 539.64,456.89 C538.53,455.56 537.41,454.25 536.30,452.97 C535.18,451.69 534.06,450.44 532.94,449.22 C531.82,447.99 530.70,446.80 529.59,445.63 C528.48,444.47 527.37,443.33 526.27,442.22 C525.17,441.11 524.08,440.03 522.99,438.97 C521.90,437.92 520.82,436.89 519.74,435.89 C518.66,434.89 517.58,433.91 516.50,432.95 C515.42,432.00 514.34,431.07 513.26,430.16 C512.18,429.25 511.10,428.37 510.03,427.50 C508.95,426.64 507.87,425.80 506.79,424.98 C505.71,424.17 504.63,423.37 503.56,422.60 C502.48,421.83 501.41,421.07 500.33,420.34 C499.26,419.61 498.19,418.91 497.12,418.22 C496.05,417.53 494.98,416.87 493.92,416.22 C492.85,415.58 491.79,414.95 490.74,414.35 C489.68,413.74 491.63,414.66 487.59,412.60 C483.55,410.54 473.55,404.47 466.50,402.00 C459.45,399.53 452.37,398.38 445.30,397.80 C438.23,397.22 429.47,397.63 424.10,398.50 C418.73,399.37 414.93,402.25 413.10,403.00" fill="none" stroke="#5aa3c8" stroke-width="1.8" stroke-linejoin="round"/>
<g font-family='"DejaVu Sans Condensed","DejaVu Sans","Liberation Sans",sans-serif' font-size="24.4" letter-spacing="0.7" fill="#141414" stroke="#141414" stroke-width="0.55" text-anchor="middle"><text x="594.3" y="122.5">150</text><text x="222.8" y="122.2"><tspan font-size="30">-</tspan><tspan dx="0.8">150</tspan></text><text x="709.4" y="237.7">120</text><text x="109.4" y="237.7"><tspan font-size="30">-</tspan><tspan dx="0.8">120</tspan></text><text x="747.6" y="404.1">90</text><text x="74.2" y="404.1"><tspan font-size="30">-</tspan><tspan dx="0.8">90</tspan></text><text x="709.5" y="583.0">60</text><text x="109.5" y="583.0"><tspan font-size="30">-</tspan><tspan dx="0.8">60</tspan></text><text x="588" y="699.0">30</text><text x="230.5" y="699.0"><tspan font-size="30">-</tspan><tspan dx="0.8">30</tspan></text><text x="414.2" y="741.6">0</text><text x="413" y="399.6" letter-spacing="-0.5">0</text><text x="413.7" y="458.6" letter-spacing="-0.5">140</text><text x="413.2" y="519.0" letter-spacing="-0.5">280</text><text x="413.0" y="583.0" letter-spacing="-0.5">420</text><text x="413.2" y="645.7" letter-spacing="-0.5">560</text><text x="413.0" y="706.0" letter-spacing="-0.5">700</text><text y="81.1" text-anchor="start"><tspan x="370.9" font-size="30">-</tspan><tspan x="382.2" font-size="27" dy="0.9">/</tspan><tspan x="393.3" font-size="18.6" dy="-3.5">+</tspan> <tspan x="414.2" dy="2.6">180</tspan></text></g>
<line x1="640.2" y1="703.5" x2="661.4" y2="703.5" stroke="#ad2a2c" stroke-width="2.9" stroke-linecap="round"/><text x="673.8" y="711.0" font-family='"DejaVu Sans Condensed","DejaVu Sans","Liberation Sans",sans-serif' font-size="24.4" letter-spacing="0.95" fill="#141414" stroke="#141414" stroke-width="0.55">C0/180</text><line x1="640.2" y1="740.1" x2="661.4" y2="740.1" stroke="#79aa45" stroke-width="2.9" stroke-linecap="round"/><text x="673.8" y="747.8" font-family='"DejaVu Sans Condensed","DejaVu Sans","Liberation Sans",sans-serif' font-size="24.4" letter-spacing="0.95" fill="#141414" stroke="#141414" stroke-width="0.55">C30/210</text><line x1="640.2" y1="776.85" x2="661.4" y2="776.85" stroke="#2e3b7a" stroke-width="2.9" stroke-linecap="round"/><text x="673.8" y="785.3" font-family='"DejaVu Sans Condensed","DejaVu Sans","Liberation Sans",sans-serif' font-size="24.4" letter-spacing="0.95" fill="#141414" stroke="#141414" stroke-width="0.55">C60/240</text><line x1="640.2" y1="813.6" x2="661.4" y2="813.6" stroke="#2b93cb" stroke-width="2.9" stroke-linecap="round"/><text x="673.8" y="823.0" font-family='"DejaVu Sans Condensed","DejaVu Sans","Liberation Sans",sans-serif' font-size="24.4" letter-spacing="0.95" fill="#141414" stroke="#141414" stroke-width="0.55">C90/270</text>
</svg></body></html>
